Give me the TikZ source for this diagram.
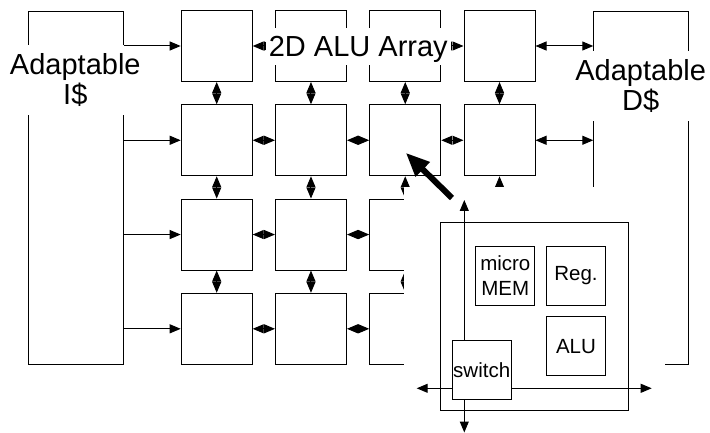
\documentclass[tikz,border=0pt]{standalone}
\usepackage{fontspec}
\setmainfont{Liberation Sans}
\usetikzlibrary{arrows.meta,positioning}

\begin{document}
\begin{tikzpicture}[x=1pt,y=-1pt,line width=1pt,
  cell/.style={draw,minimum size=71pt,inner sep=0pt},
  cache/.style={draw,minimum width=94.7pt,minimum height=353pt,anchor=north west},
  lbl/.style={fill=white,inner sep=8pt,font=\fontsize{29}{30}\selectfont,align=center},
  part/.style={draw,minimum size=59pt,inner sep=0pt,font=\fontsize{20.5}{25}\selectfont,align=center},
  link/.style={{Triangle[length=11pt,width=9pt]}-{Triangle[length=11pt,width=9pt]}},
  feed/.style={-{Triangle[length=11pt,width=9pt]}}]
\useasboundingbox (0,0) rectangle (710,433);
% caches
\node[cache] (icache) at (28,10.7) {};
\node[cache] (dcache) at (593.3,10.7) {};
\node[lbl] (ilbl) at (75.3,80) {Adaptable\\I\$};
\node[lbl] (dlbl) at (640.7,86) {Adaptable\\D\$};
% ALU array
\foreach \r in {1,...,4}
  \foreach \c in {1,...,4}
    \node[cell] (c\r\c) at ({216.7+94.27*(\c-1)},{46+94.27*(\r-1)}) {};
\foreach \r in {1,...,4} {
  \draw[feed] (c\r1.west -| icache.east) -- (c\r1.west);
  \draw[link] (c\r4.east) -- (c\r4.east -| dcache.west);
  \foreach \c/\n in {1/2,2/3,3/4} \draw[link] (c\r\c) -- (c\r\n);
}
\foreach \r/\n in {1/2,2/3,3/4}
  \foreach \c in {1,...,4} \draw[link] (c\r\c) -- (c\n\c);
\node[lbl,inner xsep=3pt,inner ysep=0pt,minimum height=37pt,text depth=0pt] (title) at (358.3,46.5) {2D ALU Array};
% blow-up of one cell
\fill[white] (404.3,186.7) rectangle (665,440);
\node[draw,minimum size=188.5pt] (tile) at (534.7,316.7) {};
\node[part] (mem) at (505.3,276) {micro\\MEM};
\node[part] (reg) at (576,276) {Reg.};
\node[part] (alu) at (576,346.3) {ALU};
\node[part] (switch) at (481.7,370.3) {switch};
\coordinate (nout) at (464.3,200);
\coordinate (sout) at (464.3,432.5);
\coordinate (wout) at (416.7,388.3);
\coordinate (eout) at (651.7,388.3);
\draw[feed] (switch.north -| nout) -- (nout);
\draw[feed] (switch.south -| sout) -- (sout);
\draw[feed] (switch.west |- wout) -- (wout);
\draw[feed] (switch.east |- eout) -- (eout);
\coordinate (ptail) at (452,198);
\coordinate (phead) at (405.7,152.7);
\draw[line width=6pt,-{Triangle[length=24pt,width=19pt]}] (ptail) -- (phead);
\end{tikzpicture}
\end{document}
